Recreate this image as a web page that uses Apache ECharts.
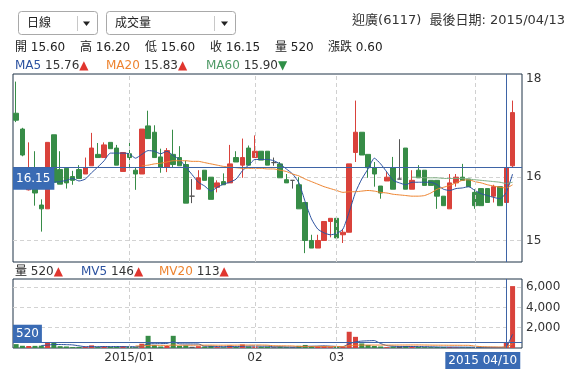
<!DOCTYPE html>
<html><head><meta charset="utf-8">
<script src="https://cdn.jsdelivr.net/npm/echarts@6/dist/echarts.min.js"></script>
<style>html,body{margin:0;padding:0;background:#fff}#c{width:587px;height:384px}</style>
</head><body><div id="c"></div>
<script>
// ---------- data ----------
const dates = [
'2014/12/08','2014/12/09','2014/12/10','2014/12/11','2014/12/12','2014/12/15','2014/12/16','2014/12/17','2014/12/18','2014/12/19',
'2014/12/22','2014/12/23','2014/12/24','2014/12/25','2014/12/26','2014/12/29','2014/12/30','2014/12/31',
'2015/01/05','2015/01/06','2015/01/07','2015/01/08','2015/01/09','2015/01/12','2015/01/13','2015/01/14','2015/01/15','2015/01/16',
'2015/01/19','2015/01/20','2015/01/21','2015/01/22','2015/01/23','2015/01/26','2015/01/27','2015/01/28','2015/01/29','2015/01/30',
'2015/02/02','2015/02/03','2015/02/04','2015/02/05','2015/02/06','2015/02/09','2015/02/10','2015/02/11','2015/02/12','2015/02/13',
'2015/02/16','2015/02/25','2015/02/26',
'2015/03/02','2015/03/03','2015/03/04','2015/03/05','2015/03/06','2015/03/09','2015/03/10','2015/03/11','2015/03/12','2015/03/13',
'2015/03/16','2015/03/17','2015/03/18','2015/03/19','2015/03/20','2015/03/23','2015/03/24','2015/03/25','2015/03/26','2015/03/27',
'2015/03/30','2015/03/31',
'2015/04/01','2015/04/02','2015/04/07','2015/04/08','2015/04/09','2015/04/10','2015/04/13'];

const opens = [17.01,16.76,15.80,15.84,15.56,15.50,16.67,16.12,16.14,16.01,
16.12,16.05,16.18,16.36,16.31,16.55,16.46,16.09,16.37,16.11,
16.05,16.81,16.71,16.32,16.16,16.36,16.31,16.20,15.70,15.81,
16.11,16.00,15.84,15.93,15.91,16.31,16.19,16.46,16.31,16.41,
16.41,16.23,16.21,15.96,15.95,15.88,15.60,15.00,14.88,15.00,
15.30,15.35,15.09,15.13,16.39,16.71,16.36,16.15,15.86,15.94,
16.15,15.97,16.46,15.81,16.11,16.11,15.95,15.95,15.70,15.50,
15.91,16.00,15.97,15.76,15.82,15.82,15.70,15.85,15.60,16.18];

const closes = [16.90,16.35,15.84,15.75,15.50,16.55,15.92,15.89,15.91,15.95,
15.98,16.15,16.46,16.31,16.51,16.45,16.19,16.39,16.31,16.05,
16.76,16.61,16.31,16.16,16.42,16.20,16.18,15.59,15.70,15.99,
15.95,15.65,15.91,15.88,16.21,16.24,16.31,16.19,16.41,16.27,
16.19,16.23,15.99,15.91,15.95,15.50,15.00,14.88,15.00,15.30,
15.35,15.04,15.13,16.21,16.71,16.35,16.15,16.05,15.75,16.00,
15.81,15.97,15.81,15.95,15.99,15.87,15.87,15.70,15.55,15.91,
16.00,15.95,15.85,15.55,15.55,15.60,15.85,15.55,16.15,17.02];

const lows = [16.87,16.33,15.79,15.55,15.14,15.50,15.92,15.89,15.82,15.88,
15.98,16.05,16.18,16.31,16.31,16.45,16.19,16.09,16.16,15.80,
16.05,16.61,16.31,16.07,16.08,16.16,16.18,15.59,15.59,15.81,
15.95,15.65,15.76,15.88,15.91,16.24,15.99,16.19,16.31,16.27,
16.19,16.18,15.99,15.91,15.82,15.50,14.80,14.88,14.88,15.00,
15.05,15.00,14.96,15.13,16.24,16.35,15.99,15.85,15.66,15.94,
15.81,15.97,15.81,15.81,15.99,15.87,15.87,15.50,15.55,15.50,
15.85,15.95,15.85,15.50,15.55,15.60,15.60,15.55,15.60,16.16];

const highs = [17.51,16.78,16.55,16.41,15.65,16.55,16.67,16.41,16.14,16.10,
16.19,16.31,16.70,16.54,16.55,16.55,16.51,16.39,16.59,16.16,
16.76,17.05,16.82,16.45,16.46,16.75,16.49,16.26,15.97,16.11,
16.11,16.00,15.95,16.06,16.51,16.41,16.61,16.50,16.66,16.41,
16.41,16.31,16.24,16.05,15.95,16.00,15.60,15.09,15.09,15.30,
15.35,15.35,15.18,16.21,17.21,16.71,16.36,16.24,15.86,16.08,
16.32,16.60,16.46,16.11,16.19,16.11,15.95,15.95,15.70,16.05,
16.05,16.21,15.97,15.81,15.82,15.82,15.88,15.85,16.20,17.21];

const volumes = [380,220,200,210,230,560,540,180,150,90,
110,120,260,90,150,110,130,180,120,80,
420,1200,300,150,200,1200,200,260,120,180,
150,200,80,60,250,100,350,150,150,120,
130,60,140,80,60,220,300,200,150,180,
80,150,100,1600,1100,450,300,200,150,80,
150,150,200,150,100,80,80,100,100,100,
60,60,80,60,60,50,60,40,520,6100];

const ma5 = [null,null,null,null,null,null,15.92,15.93,15.95,15.98,
15.94,15.97,16.07,16.16,16.26,16.38,16.38,16.38,16.37,16.30,
16.36,16.42,16.41,16.37,16.41,16.34,16.28,16.16,16.04,15.92,
15.86,15.78,15.84,15.89,15.92,15.97,16.10,16.19,16.28,16.28,
16.28,16.26,16.21,16.13,16.05,15.91,15.61,15.34,15.18,15.12,
15.09,15.11,15.18,15.45,15.76,15.97,16.13,16.30,16.21,16.08,
15.95,15.91,15.88,15.92,15.92,15.92,15.92,15.88,15.81,15.79,
15.82,15.83,15.85,15.79,15.74,15.71,15.68,15.66,15.76,16.05];

const ma20 = [null,null,null,null,null,null,null,null,null,null,
null,null,null,null,null,null,null,null,null,null,
16.18,16.19,16.21,16.22,16.24,16.26,16.26,16.26,16.25,16.25,
16.23,16.21,16.19,16.17,16.16,16.15,16.14,16.14,16.14,16.14,
16.13,16.13,16.11,16.09,16.05,16.02,15.97,15.93,15.89,15.85,
15.82,15.79,15.76,15.77,15.77,15.78,15.79,15.78,15.76,15.75,
15.73,15.72,15.71,15.70,15.70,15.71,15.75,15.81,15.84,15.87,
15.91,15.95,15.96,15.93,15.91,15.88,15.86,15.84,15.83,15.88];

const ma60 = [null,null,null,null,null,null,null,null,null,null,
null,null,null,null,null,null,null,null,null,null,
null,null,null,null,null,null,null,null,null,null,
null,null,null,null,null,null,null,null,null,null,
null,null,null,null,null,null,null,null,null,null,
null,null,null,null,null,null,null,null,null,null,
null,null,null,16.00,16.00,15.99,15.99,15.99,15.98,15.98,
15.98,15.98,15.97,15.96,15.95,15.94,15.93,15.92,15.90,15.92];

const mv5 = [null,null,null,null,248,284,348,344,332,304,
214,130,146,134,146,146,148,132,138,124,
186,400,424,430,454,610,410,402,396,392,
182,182,146,134,148,138,168,182,200,174,
180,122,120,106,94,112,160,172,186,210,
182,152,132,422,606,680,710,730,440,236,
176,146,146,146,150,136,122,102,92,92,
88,84,80,72,64,62,62,54,146,1354];

const mv20 = [null,null,null,null,null,null,null,null,null,null,
null,null,null,null,null,null,null,null,null,206,
208,257,262,259,257,289,272,276,275,279,
281,285,276,275,280,279,290,289,290,292,
278,221,213,209,202,153,158,155,157,157,
153,151,152,229,271,289,286,289,289,287,
288,292,295,299,301,294,283,278,275,271,
270,266,265,188,136,116,104,96,113,415];

const priceTicks = [15, 16];
const priceTopTick = 17.55;      // shown as "18"
const volumeTicks = [2000, 4000, 6000];
const monthStarts = ['2015/01/05', '2015/02/02', '2015/03/02', '2015/04/01'];
const monthLabels = ['2015/01', '02', '03', ''];
const focusDate = '2015/04/10';
const focusDateLabel = '2015 04/10';
const stockName = '迎廣(6117)';
const lastDate = '2015/04/13';

// ---------- styles ----------
const RED = '#d9423b', GREEN = '#378c47', GRAY = '#555', BLUE = '#2c52a0', ORANGE = '#ee8430', MGREEN = '#7fae82';
const CROSS = '#3e64a6', LABELBG = '#3a6bb4', BORDER = '#1f3347';
const FONT = "'DejaVu Sans','Noto Sans CJK TC',sans-serif";

const fi = dates.indexOf(focusDate);
const cats = dates.concat(['']);
const candleData = dates.map((d, i) => {
  const item = { value: [opens[i], closes[i], lows[i], highs[i]] };
  if (opens[i] === closes[i]) item.itemStyle = { color: GRAY, color0: GRAY, borderColor: GRAY, borderColor0: GRAY };
  return item;
});
const volData = dates.map((d, i) => ({
  value: volumes[i],
  itemStyle: { color: closes[i] > opens[i] ? RED : (closes[i] < opens[i] ? GREEN : GRAY) }
}));
const monthLines = monthStarts.map(m => ({ xAxis: m, lineStyle: { color: '#d0d0d0', type: [4, 3], width: 1 }, label: { show: false } }));

const fmt2 = v => v.toFixed(2);
const chg = closes[fi] - closes[fi - 1];

function txt(x, y, text, rich, extra) {
  return Object.assign({ type: 'text', x: x, y: y, silent: true,
    style: Object.assign({ text: text, fontFamily: FONT, fontSize: 12, fill: '#222', verticalAlign: 'middle', rich: rich || {} }, extra || {}) });
}
const rUp = { fill: '#e0352e', fontFamily: FONT, fontSize: 12 };
const rDn = { fill: '#2f8f47', fontFamily: FONT, fontSize: 12 };
const rVal = { fill: '#333', fontFamily: FONT, fontSize: 12 };

const graphics = [
  // dropdown 1
  { type: 'rect', shape: { x: 18.5, y: 11.5, width: 79, height: 23, r: 3 }, style: { fill: '#fff', stroke: '#a9a9a9', lineWidth: 1 }, silent: true },
  { type: 'line', shape: { x1: 77.5, y1: 16, x2: 77.5, y2: 31 }, style: { stroke: '#c8c8c8', lineWidth: 1 }, silent: true },
  { type: 'polygon', shape: { points: [[83, 21.5], [90, 21.5], [86.5, 26]] }, style: { fill: '#222' }, silent: true },
  txt(27, 23.5, '日線'),
  // dropdown 2
  { type: 'rect', shape: { x: 106.5, y: 11.5, width: 129, height: 23, r: 3 }, style: { fill: '#fff', stroke: '#a9a9a9', lineWidth: 1 }, silent: true },
  { type: 'line', shape: { x1: 214.5, y1: 16, x2: 214.5, y2: 31 }, style: { stroke: '#c8c8c8', lineWidth: 1 }, silent: true },
  { type: 'polygon', shape: { points: [[221, 21.5], [228, 21.5], [224.5, 26]] }, style: { fill: '#222' }, silent: true },
  txt(115, 23.5, '成交量'),
  // title
  txt(565, 21, stockName + '  最後日期: ' + lastDate, null, { fontSize: 13, fill: '#333', align: 'right' }),
  // OHLC row
  txt(15, 48, '開 ' + fmt2(opens[fi])),
  txt(80, 48, '高 ' + fmt2(highs[fi])),
  txt(145, 48, '低 ' + fmt2(lows[fi])),
  txt(210, 48, '收 ' + fmt2(closes[fi])),
  txt(275, 48, '量 ' + volumes[fi]),
  txt(328, 48, '漲跌 ' + chg.toFixed(2)),
  // MA legend
  txt(15, 66, '{n|MA5} {v|' + fmt2(ma5[fi]) + '}{u|▲}', { n: { fill: BLUE, fontFamily: FONT, fontSize: 12 }, v: rVal, u: rUp }),
  txt(106, 66, '{n|MA20} {v|' + fmt2(ma20[fi]) + '}{u|▲}', { n: { fill: ORANGE, fontFamily: FONT, fontSize: 12 }, v: rVal, u: rUp }),
  txt(206, 66, '{n|MA60} {v|' + fmt2(ma60[fi]) + '}{u|▼}', { n: { fill: '#4f9a66', fontFamily: FONT, fontSize: 12 }, v: rVal, u: rDn }),
  // volume legend
  txt(15, 272, '{n|量} {v|' + volumes[fi] + '}{u|▲}', { n: { fill: '#222', fontFamily: FONT, fontSize: 12 }, v: rVal, u: rUp }),
  txt(81, 272, '{n|MV5} {v|' + mv5[fi] + '}{u|▲}', { n: { fill: BLUE, fontFamily: FONT, fontSize: 12 }, v: rVal, u: rUp }),
  txt(159, 272, '{n|MV20} {v|' + mv20[fi] + '}{u|▲}', { n: { fill: ORANGE, fontFamily: FONT, fontSize: 12 }, v: rVal, u: rUp })
];

const axisLabelStyle = { color: '#333', fontFamily: FONT, fontSize: 12 };

const option = {
  animation: false,
  backgroundColor: '#fff',
  grid: [
    { left: 13, right: 65, top: 74, height: 188, show: true, borderColor: BORDER, borderWidth: 1, backgroundColor: 'transparent', containLabel: false },
    { left: 13, right: 65, top: 279, height: 69, show: true, borderColor: BORDER, borderWidth: 1, backgroundColor: 'transparent', containLabel: false }
  ],
  xAxis: [
    { type: 'category', gridIndex: 0, data: cats, boundaryGap: true,
      axisLine: { show: false }, axisTick: { show: false }, axisLabel: { show: false }, splitLine: { show: false } },
    { type: 'category', gridIndex: 1, data: cats, boundaryGap: true,
      axisLine: { show: false }, axisTick: { show: false }, splitLine: { show: false },
      axisLabel: Object.assign({}, axisLabelStyle, {
        margin: 4,
        interval: (idx, val) => monthStarts.indexOf(val) >= 0 || val === focusDate,
        formatter: (val) => {
          if (val === focusDate) return '{d|' + focusDateLabel + '}{s| }';
          const k = monthStarts.indexOf(val);
          return k >= 0 ? monthLabels[k] : '';
        },
        rich: {
          d: { backgroundColor: LABELBG, color: '#fff', fontFamily: FONT, fontSize: 12, padding: [3, 3, 2, 3] },
          s: { width: 47, fontSize: 12 }
        }
      }) }
  ],
  yAxis: [
    { type: 'value', gridIndex: 0, position: 'right', min: 14.66, max: 17.63, scale: true,
      axisLine: { show: false },
      axisTick: { show: false, customValues: priceTicks },
      axisLabel: Object.assign({}, axisLabelStyle, { margin: 4, customValues: priceTicks.concat([priceTopTick]), formatter: v => String(Math.round(v)) }),
      splitLine: { show: true, lineStyle: { color: '#d3d3d3', type: [4, 3] } } },
    { type: 'value', gridIndex: 1, position: 'right', min: 0, max: 6800,
      axisLine: { show: false },
      axisTick: { show: false, customValues: volumeTicks },
      axisLabel: Object.assign({}, axisLabelStyle, { margin: 4, customValues: volumeTicks }),
      splitLine: { show: true, lineStyle: { color: '#d3d3d3', type: [4, 3] } } }
  ],
  graphic: graphics,
  series: [
    { type: 'candlestick', xAxisIndex: 0, yAxisIndex: 0, data: candleData, barWidth: 5,
      itemStyle: { color: RED, color0: GREEN, borderColor: RED, borderColor0: GREEN, borderWidth: 1 },
      markLine: { silent: true, symbol: ['none', 'none'], animation: false,
        data: monthLines.concat([
          { xAxis: focusDate, lineStyle: { color: CROSS, type: 'solid', width: 1 }, label: { show: false } },
          { yAxis: closes[fi], lineStyle: { color: CROSS, type: 'solid', width: 1 },
            label: { show: true, position: 'insideStartBottom', distance: [0, 0], formatter: fmt2(closes[fi]),
              backgroundColor: LABELBG, color: '#fff', fontFamily: FONT, fontSize: 12, padding: [5, 4, 5, 3] } }
        ]) } },
    { type: 'line', xAxisIndex: 0, yAxisIndex: 0, data: ma5, showSymbol: false, smooth: 0.2, connectNulls: false,
      lineStyle: { color: BLUE, width: 1 }, z: 3 },
    { type: 'line', xAxisIndex: 0, yAxisIndex: 0, data: ma20, showSymbol: false, smooth: 0.2,
      lineStyle: { color: ORANGE, width: 1 }, z: 3 },
    { type: 'line', xAxisIndex: 0, yAxisIndex: 0, data: ma60, showSymbol: false, smooth: 0.2,
      lineStyle: { color: MGREEN, width: 1 }, z: 3 },
    { type: 'bar', xAxisIndex: 1, yAxisIndex: 1, data: volData, barWidth: 5,
      markLine: { silent: true, symbol: ['none', 'none'], animation: false,
        data: monthLines.concat([
          { xAxis: focusDate, lineStyle: { color: CROSS, type: 'solid', width: 1 }, label: { show: false } },
          { yAxis: volumes[fi], lineStyle: { color: CROSS, type: 'solid', width: 1 },
            label: { show: true, position: 'insideStartTop', distance: [0, 0], formatter: String(volumes[fi]),
              backgroundColor: LABELBG, color: '#fff', fontFamily: FONT, fontSize: 12, padding: [3, 3, 3, 3] } }
        ]) } },
    { type: 'line', xAxisIndex: 1, yAxisIndex: 1, data: mv5, showSymbol: false, smooth: 0.2,
      lineStyle: { color: BLUE, width: 1 }, z: 3 },
    { type: 'line', xAxisIndex: 1, yAxisIndex: 1, data: mv20, showSymbol: false, smooth: 0.2,
      lineStyle: { color: ORANGE, width: 1 }, z: 3 }
  ]
};

const chart = echarts.init(document.getElementById('c'), null, { renderer: 'canvas' });
chart.setOption(option);
</script>
</body></html>
